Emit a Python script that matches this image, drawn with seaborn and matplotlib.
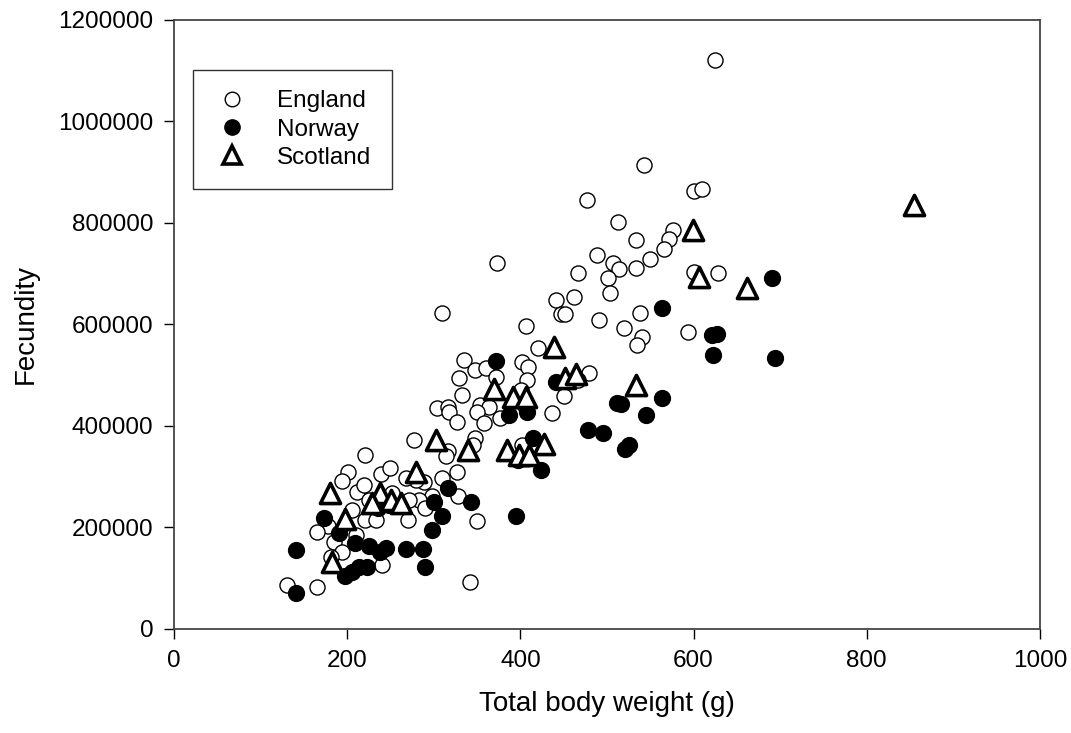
#!/usr/bin/env python3
"""Fecundity vs total body weight, by country of origin."""

import matplotlib.pyplot as plt
import pandas as pd
import seaborn as sns
from matplotlib.lines import Line2D
from matplotlib.ticker import FuncFormatter

# England (open circles)
ENGLAND_WEIGHT = [
    625, 543, 601, 610, 477, 513, 373, 576, 572, 534, 566, 489, 550, 507,
    514, 534, 466, 501, 601, 628, 503, 462, 441, 447, 451, 538, 310, 491,
    407, 520, 594, 540, 535, 420, 335, 402, 409, 347, 360, 329, 372, 408,
    479, 466, 401, 450, 333, 304, 316, 318, 353, 364, 350, 327, 358, 376,
    437, 277, 347, 345, 316, 314, 327, 310, 289, 279, 268, 298, 283, 271,
    220, 201, 194, 239, 249, 211, 219, 225, 206, 220, 233, 178, 165, 185,
    210, 194, 181, 240, 131, 165, 342, 350, 252, 270, 290, 402, 328, 405,
]
ENGLAND_FECUNDITY = [
    1120000, 914000, 862000, 866000, 845000, 802000, 721000, 786000, 768000,
    767000, 749000, 737000, 728000, 721000, 710000, 711000, 702000, 691000,
    704000, 702000, 662000, 653000, 648000, 620000, 620000, 623000, 623000,
    609000, 597000, 593000, 584000, 575000, 559000, 553000, 530000, 526000,
    516000, 510000, 514000, 494000, 497000, 491000, 505000, 490000, 470000,
    458000, 461000, 435000, 437000, 428000, 441000, 438000, 428000, 408000,
    405000, 416000, 425000, 372000, 376000, 362000, 351000, 340000, 309000,
    298000, 290000, 293000, 297000, 262000, 254000, 254000, 343000, 309000,
    292000, 305000, 317000, 270000, 284000, 254000, 234000, 215000, 215000,
    203000, 190000, 172000, 185000, 152000, 141000, 126000, 87000, 82000,
    93000, 212000, 268000, 215000, 238000, 362000, 262000, 440000,
]

# Norway (filled circles)
NORWAY_WEIGHT = [
    141, 141, 173, 191, 198, 206, 209, 214, 223, 225, 238, 245, 235, 248,
    268, 288, 290, 298, 300, 310, 316, 343, 372, 395, 387, 408, 414, 397,
    424, 441, 478, 495, 512, 516, 521, 525, 545, 563, 564, 621, 627, 622,
    691, 694,
]
NORWAY_FECUNDITY = [
    155000, 71000, 218000, 189000, 104000, 113000, 169000, 122000, 122000,
    163000, 152000, 159000, 238000, 244000, 157000, 157000, 121000, 195000,
    250000, 222000, 278000, 250000, 527000, 222000, 421000, 428000, 377000,
    333000, 313000, 486000, 391000, 386000, 445000, 444000, 355000, 362000,
    421000, 455000, 632000, 579000, 581000, 540000, 692000, 533000,
]

# Scotland (open triangles)
SCOTLAND_WEIGHT = [
    854, 599, 606, 662, 439, 451, 464, 370, 392, 407, 534, 303, 339, 385,
    398, 410, 427, 280, 180, 238, 229, 250, 262, 198, 183,
]
SCOTLAND_FECUNDITY = [
    835000, 786000, 694000, 672000, 556000, 495000, 502000, 473000, 456000,
    456000, 480000, 372000, 353000, 353000, 343000, 343000, 364000, 309000,
    268000, 268000, 248000, 254000, 248000, 217000, 131000,
]

X_TICKS = [0, 200, 400, 600, 800, 1000]
Y_TICKS = [0, 200000, 400000, 600000, 800000, 1000000, 1200000]


def main():
    sns.set_style("white")
    plt.rcParams["font.family"] = ["Liberation Sans", "DejaVu Sans"]
    plt.rcParams["text.color"] = "black"
    plt.rcParams["axes.labelcolor"] = "black"

    df = pd.concat([
        pd.DataFrame({"weight": ENGLAND_WEIGHT, "fecundity": ENGLAND_FECUNDITY, "country": "England"}),
        pd.DataFrame({"weight": NORWAY_WEIGHT, "fecundity": NORWAY_FECUNDITY, "country": "Norway"}),
        pd.DataFrame({"weight": SCOTLAND_WEIGHT, "fecundity": SCOTLAND_FECUNDITY, "country": "Scotland"}),
    ], ignore_index=True)

    fig, ax = plt.subplots(figsize=(10.71, 7.33), dpi=100)
    fig.subplots_adjust(left=0.1625, right=0.971, bottom=0.142, top=0.973)

    styles = {
        "England": dict(marker="o", s=118, facecolor="white", edgecolor="black", linewidth=1.0),
        "Norway": dict(marker="o", s=130, facecolor="black", edgecolor="black", linewidth=1.0),
        "Scotland": dict(marker="^", s=210, facecolor="white", edgecolor="black", linewidth=2.6),
    }
    for country, kw in styles.items():
        sns.scatterplot(data=df[df["country"] == country], x="weight", y="fecundity",
                        ax=ax, legend=False, zorder=3, **kw)

    ax.set_xlim(0, 1000)
    ax.set_ylim(0, 1200000)
    ax.set_xticks(X_TICKS)
    ax.set_yticks(Y_TICKS)
    ax.yaxis.set_major_formatter(FuncFormatter(lambda v, _: f"{int(v)}"))
    ax.tick_params(direction="out", length=7, width=1, labelsize=17.5, pad=8,
                   bottom=True, left=True, colors="black")
    for sp in ax.spines.values():
        sp.set_color("#444444")
        sp.set_linewidth(1.3)

    ax.set_xlabel("Total body weight (g)", fontsize=20, labelpad=14)
    ax.set_ylabel("Fecundity", fontsize=20, labelpad=14)

    handles = [
        Line2D([], [], ls="", marker="o", ms=10.5, mfc="white", mec="black", mew=1.0),
        Line2D([], [], ls="", marker="o", ms=11, mfc="black", mec="black", mew=1.0),
        Line2D([], [], ls="", marker="^", ms=13, mfc="white", mec="black", mew=2.6),
    ]
    leg = ax.legend(handles, ["England", "Norway", "Scotland"], loc="upper left",
                    bbox_to_anchor=(0.022, 0.918), fontsize=17.5, frameon=True,
                    fancybox=False, borderpad=0.85, labelspacing=0.25,
                    handletextpad=1.1, handlelength=1.5, borderaxespad=0)
    leg.get_frame().set_edgecolor("black")
    leg.get_frame().set_linewidth(1.0)

    fig.savefig("out.png", dpi=100)
    plt.close(fig)


if __name__ == "__main__":
    main()
